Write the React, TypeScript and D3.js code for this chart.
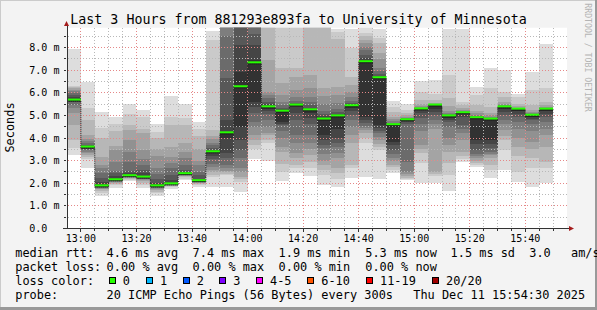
import React from 'react';
import * as d3 from 'd3';

// ---------- data ----------
const barStarts = [
  '12:55', '13:00', '13:05', '13:10', '13:15', '13:20', '13:25', '13:30', '13:35', '13:40',
  '13:45', '13:50', '13:55', '14:00', '14:05', '14:10', '14:15', '14:20', '14:25', '14:30',
  '14:35', '14:40', '14:45', '14:50', '14:55', '15:00', '15:05', '15:10', '15:15', '15:20',
  '15:25', '15:30', '15:35', '15:40', '15:45',
];

// median RTT per 5-minute step (ms)
const medians = [
  5.68, 3.6, 1.88, 2.15, 2.33, 2.27, 1.88, 1.97, 2.42, 2.11,
  3.39, 4.23, 6.27, 7.33, 5.38, 5.19, 5.46, 5.25, 4.84, 4.98,
  5.43, 7.38, 6.67, 4.59, 4.81, 5.29, 5.46, 4.98, 5.12, 4.9,
  4.84, 5.38, 5.28, 5.01, 5.28,
];

// 20 sorted ping RTTs per step (ms)
const pings = [
  [3.24, 3.57, 3.91, 4.57, 5.09, 5.31, 5.46, 5.58, 5.63, 5.66, 5.72, 5.8, 5.9, 6.0, 6.08, 6.14, 6.2, 6.25, 6.3, 7.94],
  [2.68, 3.05, 3.15, 3.25, 3.35, 3.4, 3.45, 3.5, 3.55, 3.59, 3.62, 3.66, 3.7, 3.77, 3.85, 3.95, 4.13, 4.79, 5.31, 6.49],
  [1.44, 1.58, 1.66, 1.72, 1.76, 1.8, 1.83, 1.85, 1.86, 1.87, 1.9, 2.05, 2.25, 2.45, 2.65, 2.8, 3.17, 3.98, 4.45, 5.13],
  [1.8, 1.9, 1.97, 2.02, 2.06, 2.09, 2.11, 2.13, 2.14, 2.15, 2.17, 2.3, 2.45, 2.55, 2.95, 3.45, 3.65, 4.3, 4.6, 4.93],
  [2.09, 2.15, 2.2, 2.24, 2.27, 2.29, 2.31, 2.32, 2.33, 2.33, 2.36, 2.43, 2.55, 2.95, 3.4, 3.9, 4.35, 4.57, 5.05, 5.5],
  [1.8, 1.9, 2.0, 2.08, 2.14, 2.18, 2.21, 2.24, 2.26, 2.27, 2.3, 2.45, 2.6, 2.8, 3.08, 3.45, 4.2, 4.42, 4.95, 5.24],
  [1.44, 1.55, 1.63, 1.7, 1.75, 1.8, 1.83, 1.85, 1.87, 1.88, 1.9, 2.0, 2.2, 2.4, 2.65, 3.2, 3.5, 3.98, 4.28, 4.62],
  [1.74, 1.82, 1.87, 1.9, 1.93, 1.95, 1.96, 1.97, 1.97, 1.97, 1.99, 2.13, 2.35, 2.65, 2.9, 3.17, 3.61, 4.57, 4.94, 5.87],
  [2.14, 2.2, 2.26, 2.3, 2.34, 2.37, 2.39, 2.41, 2.42, 2.42, 2.45, 2.5, 2.6, 2.8, 3.1, 3.39, 3.76, 4.57, 4.87, 5.5],
  [1.84, 1.92, 1.98, 2.02, 2.05, 2.07, 2.09, 2.1, 2.1, 2.11, 2.13, 2.2, 2.35, 2.5, 2.8, 3.0, 3.5, 4.1, 4.42, 4.7],
  [1.84, 2.28, 2.35, 2.5, 2.6, 2.7, 2.85, 3.05, 3.2, 3.38, 3.42, 3.48, 3.57, 3.68, 3.8, 3.95, 4.1, 4.35, 8.34, 8.73],
  [1.84, 2.35, 2.4, 2.5, 2.55, 2.65, 2.8, 3.1, 3.32, 3.98, 4.25, 4.8, 6.64, 8.5, 9.2, 9.5, 9.8, 10.2, 10.6, 11.0],
  [1.62, 2.06, 2.2, 2.28, 2.5, 2.65, 3.1, 3.46, 3.9, 4.5, 6.93, 8.11, 9.1, 9.4, 9.7, 10.0, 10.4, 10.8, 11.2, 11.6],
  [3.07, 3.5, 3.69, 3.9, 4.13, 4.5, 4.72, 5.09, 5.38, 5.6, 7.45, 8.11, 8.6, 9.2, 9.5, 9.8, 10.1, 10.5, 10.9, 11.3],
  [2.99, 3.76, 3.9, 4.13, 4.2, 4.5, 4.8, 5.05, 5.2, 5.3, 5.42, 5.5, 5.6, 5.75, 5.9, 6.05, 7.45, 9.2, 9.6, 10.0],
  [2.09, 2.5, 2.87, 3.39, 3.6, 3.98, 4.3, 4.57, 4.6, 4.72, 5.22, 5.28, 5.35, 5.45, 5.6, 5.9, 6.42, 7.08, 9.2, 9.6],
  [2.45, 2.65, 2.8, 3.1, 3.32, 3.8, 4.13, 4.8, 5.09, 5.4, 5.48, 5.5, 5.55, 5.65, 5.83, 6.12, 6.71, 7.08, 9.2, 9.6],
  [2.33, 2.65, 2.95, 3.24, 3.5, 3.8, 4.13, 4.6, 4.87, 5.1, 5.3, 5.35, 5.45, 5.6, 5.83, 6.2, 6.79, 9.2, 9.5, 9.9],
  [1.91, 2.36, 2.6, 2.8, 3.0, 3.3, 3.54, 3.7, 3.9, 4.13, 4.9, 4.97, 5.05, 5.2, 5.5, 5.85, 6.2, 9.2, 9.5, 9.9],
  [1.84, 2.2, 2.45, 2.65, 3.1, 3.35, 3.6, 3.8, 3.98, 4.42, 5.0, 5.05, 5.15, 5.3, 5.55, 5.9, 6.27, 8.4, 8.7, 8.85],
  [2.21, 2.65, 2.8, 3.8, 4.13, 4.5, 4.8, 5.01, 5.2, 5.35, 5.46, 5.5, 5.55, 5.65, 5.8, 6.05, 6.34, 6.71, 7.97, 8.85],
  [2.28, 3.76, 4.0, 4.2, 4.35, 4.45, 4.55, 4.65, 4.8, 4.94, 7.45, 7.55, 7.67, 7.9, 8.04, 8.2, 8.34, 8.5, 8.64, 9.0],
  [2.18, 3.46, 3.6, 3.75, 3.9, 4.05, 4.2, 4.3, 4.45, 4.57, 6.7, 6.75, 6.85, 6.95, 7.08, 7.5, 7.75, 8.2, 8.41, 8.85],
  [2.46, 2.6, 2.7, 2.8, 3.0, 3.1, 3.3, 3.46, 3.7, 3.83, 4.6, 4.62, 4.64, 4.68, 4.75, 4.85, 4.95, 5.13, 5.38, 5.63],
  [2.12, 2.2, 2.25, 2.32, 2.4, 2.5, 2.95, 4.6, 4.7, 4.75, 4.82, 4.83, 4.85, 4.87, 4.9, 4.95, 5.0, 5.1, 5.24, 5.5],
  [1.99, 2.9, 3.32, 3.5, 3.69, 4.3, 4.6, 4.87, 5.1, 5.25, 5.29, 5.3, 5.31, 5.32, 5.35, 5.4, 5.5, 5.68, 6.05, 6.52],
  [1.99, 2.3, 2.4, 2.5, 4.42, 4.6, 4.8, 5.0, 5.15, 5.3, 5.44, 5.45, 5.46, 5.47, 5.48, 5.5, 5.55, 5.68, 5.97, 6.56],
  [1.66, 2.36, 2.9, 3.4, 3.7, 3.98, 4.5, 4.72, 4.8, 4.9, 4.99, 5.0, 5.02, 5.05, 5.1, 5.2, 5.4, 5.75, 6.79, 8.85],
  [2.92, 3.05, 3.2, 3.39, 3.9, 4.2, 4.4, 4.57, 4.95, 5.05, 5.13, 5.14, 5.15, 5.17, 5.2, 5.25, 5.35, 5.45, 5.6, 8.85],
  [2.73, 2.8, 2.9, 3.0, 3.1, 3.2, 3.3, 3.46, 3.75, 3.9, 4.91, 4.92, 4.94, 4.97, 5.02, 5.1, 5.2, 5.45, 5.9, 6.27],
  [2.24, 2.6, 2.8, 3.1, 3.24, 3.3, 3.4, 3.54, 3.75, 3.9, 4.85, 4.86, 4.87, 4.9, 4.93, 5.0, 5.1, 5.38, 6.2, 7.11],
  [2.59, 3.46, 3.9, 4.1, 4.35, 4.6, 4.8, 5.01, 5.15, 5.3, 5.38, 5.39, 5.4, 5.42, 5.45, 5.5, 5.6, 5.83, 6.05, 7.0],
  [2.06, 2.5, 3.2, 3.6, 3.98, 4.4, 4.7, 4.94, 5.05, 5.2, 5.28, 5.285, 5.29, 5.3, 5.32, 5.35, 5.4, 5.5, 5.8, 5.97],
  [1.84, 2.65, 3.1, 3.5, 3.83, 4.3, 4.6, 4.79, 4.85, 4.95, 5.01, 5.02, 5.03, 5.05, 5.1, 5.15, 5.25, 5.46, 6.12, 6.93],
  [2.02, 2.65, 2.95, 3.6, 4.13, 4.4, 4.7, 4.95, 5.05, 5.2, 5.28, 5.29, 5.3, 5.31, 5.33, 5.38, 5.45, 5.6, 6.2, 8.16],
];

const yTickValues = [0, 1, 2, 3, 4, 5, 6, 7, 8];
const yTickLabels = ['0.0', '1.0 m', '2.0 m', '3.0 m', '4.0 m', '5.0 m', '6.0 m', '7.0 m', '8.0 m'];

const lossLabels = ['0', '1', '2', '3', '4-5', '6-10', '11-19', '20/20'];
const lossColors = ['#26ff00', '#00b8ff', '#0059ff', '#7e00ff', '#ff00ff', '#ff5500', '#ff0000', '#a00000'];

const title = 'Last 3 Hours from 881293e893fa to University of Minnesota';

// ---------- styles ----------
const SMOKE = ['#dddddd', '#cacaca', '#b7b7b7', '#a4a4a4', '#919191', '#7e7e7e', '#6b6b6b', '#585858', '#454545', '#323232'];
const MONO = '"DejaVu Sans Mono", monospace';

const parseT = d3.timeParse('%H:%M');

export default function App() {
  const W = 597, H = 310;
  const left = 67, right = 567, top = 27.7, bottom = 228.3;

  const x = d3.scaleTime()
    .domain([parseT('12:55') as Date, parseT('15:55') as Date])
    .range([left, right]);
  const y = d3.scaleLinear().domain([0, 8]).range([bottom, 47.7]);

  const starts = barStarts.map((s) => parseT(s) as Date);
  const ends = starts.map((d) => d3.timeMinute.offset(d, 5));

  const minorX = x.ticks(d3.timeMinute.every(5) as any).filter((d) => x(d) > left + 1 && x(d) < right - 1);
  const majorX = x.ticks(d3.timeMinute.every(20) as any).filter((d) => x(d) > left + 1 && x(d) < right - 1);
  const minorY = d3.range(1, 18).map((i) => i * 0.5).filter((v) => v % 1 !== 0);
  const majorY = yTickValues.filter((v) => v > 0);
  const px = (v: number) => Math.floor(v) + 0.5;
  const fmt = d3.timeFormat('%H:%M');

  const stepPts: [number, number][] = medians.map((m, i) => [x(starts[i]), y(m) + 1]);
  stepPts.push([x(ends[ends.length - 1]), y(medians[medians.length - 1]) + 1]);
  const stepPath = d3.line().curve(d3.curveStepAfter)(stepPts) || '';

  const legendY = [257.3, 271.2, 285, 299.2];
  const boxX = [108.7, 146, 182.7, 219.3, 256, 307.3, 366, 432];
  const DASH = '1 2';

  return (
    <svg width={W} height={H} style={{ position: 'absolute', left: 0, top: 0 }}
      xmlns="http://www.w3.org/2000/svg">
      <defs>
        <clipPath id="plot">
          <rect x={left} y={top} width={right - left} height={bottom - top} />
        </clipPath>
      </defs>
      <rect x={0} y={0} width={W} height={H} fill="#f3f3f3" />
      <rect x={0} y={0} width={W} height={1} fill="#cbcbcb" />
      <rect x={0} y={0} width={1} height={H} fill="#cbcbcb" />
      <rect x={W - 2} y={0} width={2} height={H} fill="#999999" />
      <rect x={0} y={H - 3} width={W} height={3} fill="#999999" />

      <rect x={left} y={top} width={right - left} height={bottom - top} fill="#ffffff" />

      {/* smoke */}
      <g clipPath="url(#plot)" shapeRendering="crispEdges">
        {pings.map((p, i) => {
          const x0 = x(starts[i]);
          const x1 = x(ends[i]);
          return SMOKE.map((c, k) => {
            const lo = p[k];
            const hi = p[19 - k];
            return (
              <rect key={`s${i}-${k}`} x={x0} width={x1 - x0}
                y={y(hi)} height={Math.max(0, y(lo) - y(hi))} fill={c} />
            );
          });
        })}
      </g>

      {/* grid */}
      <g shapeRendering="crispEdges">
        {minorY.map((v) => (
          <line key={`gy${v}`} x1={left + 1} x2={right} y1={px(y(v))} y2={px(y(v))}
            stroke="#b8b8b8" strokeWidth={1} strokeDasharray={DASH} />
        ))}
        {minorX.filter((d) => d.getMinutes() % 20 !== 0).map((d) => (
          <line key={`gx${+d}`} x1={px(x(d))} x2={px(x(d))} y1={top} y2={bottom}
            stroke="#b8b8b8" strokeWidth={1} strokeDasharray={DASH} />
        ))}
        {majorY.map((v) => (
          <line key={`my${v}`} x1={left + 1} x2={right} y1={px(y(v))} y2={px(y(v))}
            stroke="#e58888" strokeWidth={1} strokeDasharray={DASH} />
        ))}
        {majorX.map((d) => (
          <line key={`mx${+d}`} x1={px(x(d))} x2={px(x(d))} y1={top} y2={bottom}
            stroke="#e58888" strokeWidth={1} strokeDasharray={DASH} />
        ))}
      </g>

      {/* median */}
      <g clipPath="url(#plot)">
        <path d={stepPath} fill="none" stroke="#202020" strokeWidth={1} strokeDasharray="1 1" />
        {medians.map((m, i) => (
          <line key={`mh${i}`} x1={x(starts[i])} x2={x(ends[i])} y1={y(m) + 1} y2={y(m) + 1}
            stroke="#202020" strokeWidth={1} />
        ))}
        {medians.map((m, i) => (
          <rect key={`mg${i}`} x={x(starts[i])} width={x(ends[i]) - x(starts[i])}
            y={y(m) - 1.5} height={2} fill={lossColors[0]} />
        ))}
      </g>

      {/* axes */}
      <g shapeRendering="crispEdges" stroke="#333333">
        <line x1={63} x2={569} y1={px(bottom)} y2={px(bottom)} />
        <line x1={px(left)} x2={px(left)} y1={px(bottom)} y2={25} />
        {d3.range(1, 18).map((i) => i * 0.5).map((v) => (
          <line key={`ty${v}`} x1={64} x2={66} y1={px(y(v))} y2={px(y(v))} />
        ))}
        {minorX.map((d) => (
          <line key={`tx${+d}`} x1={px(x(d))} x2={px(x(d))} y1={229} y2={d.getMinutes() % 20 === 0 ? 232 : 231} />
        ))}
      </g>
      <polygon points="66.5,21 64,26 69,26" fill="#a51c1c" />
      <polygon points="574,228.5 569,226 569,231" fill="#a51c1c" />

      <g fontFamily={MONO} fontSize={10} fill="#000">
        {yTickValues.map((v, i) => (
          <text key={`yl${v}`} x={29.3} y={y(v) + 3.6}>{yTickLabels[i]}</text>
        ))}
        {majorX.map((d) => (
          <text key={`xl${+d}`} x={x(d)} y={241.5} textAnchor="middle">{fmt(d)}</text>
        ))}
      </g>

      <text x={298.5} y={24} textAnchor="middle" fontFamily={MONO} fontSize={13.3} fill="#000">{title}</text>

      <text transform="translate(13.6,127.5) rotate(-90)" textAnchor="middle" fontFamily={MONO}
        fontSize={11.9} fill="#000">Seconds</text>

      <text transform="translate(585,3.3) rotate(90)" fontFamily={MONO} fontSize={8.2} fill="#b4b4b4">
        RRDTOOL / TOBI OETIKER
      </text>

      <g fontFamily={MONO} fontSize={11.9} fill="#000" style={{ whiteSpace: 'pre' }}>
        <text x={15.3} y={legendY[0]}>median rtt:</text>
        <text x={106.6} y={legendY[0]}>4.6 ms avg</text>
        <text x={192.6} y={legendY[0]}>7.4 ms max</text>
        <text x={278.6} y={legendY[0]}>1.9 ms min</text>
        <text x={365.3} y={legendY[0]}>5.3 ms now</text>
        <text x={450.6} y={legendY[0]}>1.5 ms sd</text>
        <text x={529.3} y={legendY[0]}>3.0</text>
        <text x={571} y={legendY[0]}>am/s</text>

        <text x={15.3} y={legendY[1]}>packet loss:</text>
        <text x={106.6} y={legendY[1]}>0.00 % avg</text>
        <text x={192.6} y={legendY[1]}>0.00 % max</text>
        <text x={278.6} y={legendY[1]}>0.00 % min</text>
        <text x={365.3} y={legendY[1]}>0.00 % now</text>

        <text x={15.3} y={legendY[2]}>loss color:</text>
        {lossLabels.map((l, i) => (
          <g key={`lg${l}`}>
            <rect x={Math.round(boxX[i]) + 0.5} y={277.5} width={6} height={6} fill={lossColors[i]}
              stroke="#000" strokeWidth={1} shapeRendering="crispEdges" />
            <text x={boxX[i] + 14} y={legendY[2]}>{l}</text>
          </g>
        ))}

        <text x={15.3} y={legendY[3]}>probe:</text>
        <text x={106.6} y={legendY[3]}>20 ICMP Echo Pings (56 Bytes) every 300s</text>
        <text x={413.3} y={legendY[3]}>Thu Dec 11 15:54:30 2025</text>
      </g>
    </svg>
  );
}
